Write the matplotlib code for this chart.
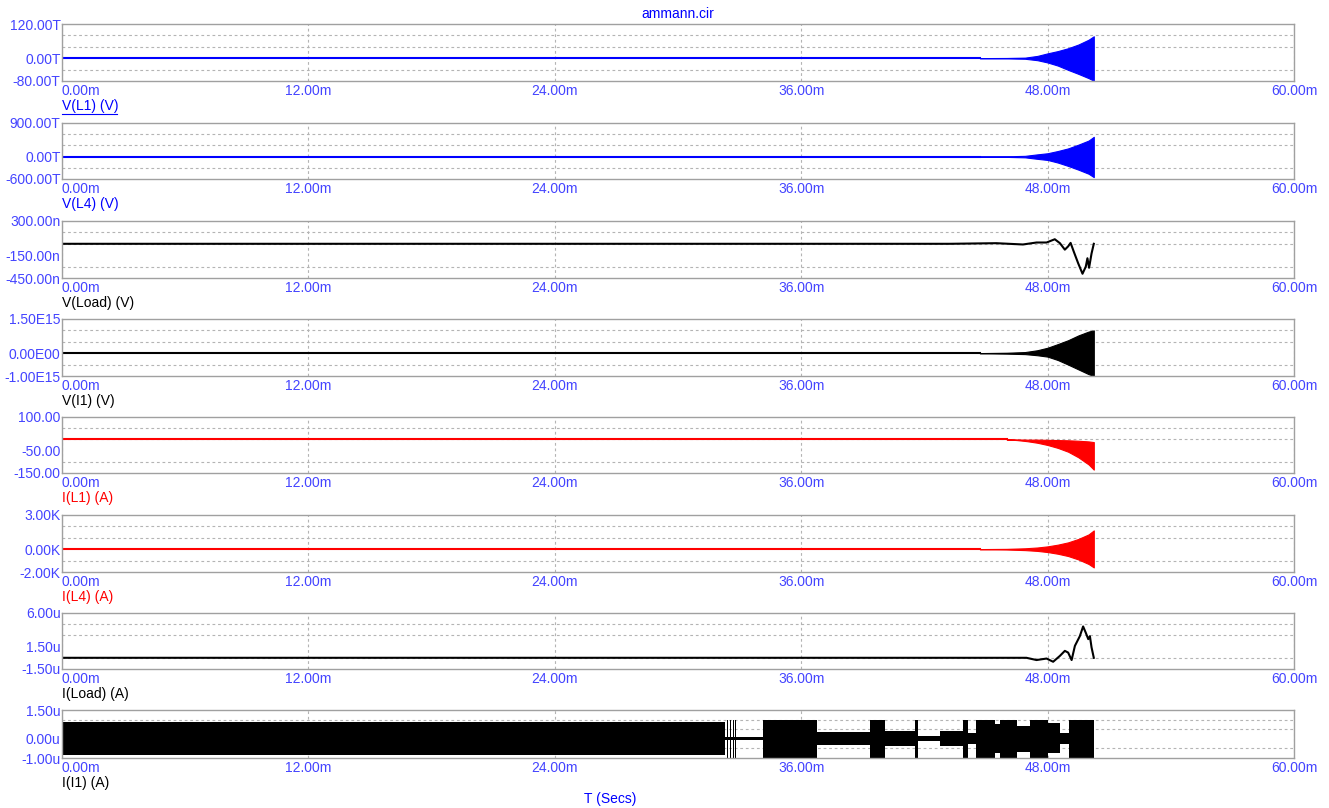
import numpy as np
import matplotlib.pyplot as plt

plt.rcParams['font.family'] = ['Liberation Sans', 'DejaVu Sans']
plt.rcParams['font.size'] = 10

# ---- data (time in ms) ----

# growing oscillations, envelope upper / lower
t_env = [44.7, 46.0, 46.9, 47.5, 48.0, 48.5, 49.0, 49.5, 50.0, 50.25]
vl1_hi = [0.3, 0.8, 2.0, 8.0, 17.0, 25.0, 35.0, 48.0, 65.0, 77.0]          # T
vl1_lo = [-0.3, -0.8, -2.0, -7.0, -15.0, -26.0, -41.0, -55.0, -70.0, -79.0]
vl4_hi = [3, 8, 20, 60, 90, 150, 220, 320, 430, 530]                        # T
vl4_lo = [-3, -8, -20, -60, -90, -160, -250, -350, -460, -550]
vi1_hi = [0.005, 0.02, 0.05, 0.13, 0.24, 0.40, 0.57, 0.78, 0.95, 1.0]      # E15
vi1_lo = [-0.005, -0.02, -0.04, -0.09, -0.15, -0.30, -0.50, -0.71, -0.92, -1.0]
il4_hi = [0.01, 0.03, 0.08, 0.15, 0.25, 0.40, 0.60, 0.90, 1.30, 1.65]      # K
il4_lo = [-0.01, -0.03, -0.08, -0.15, -0.25, -0.40, -0.60, -0.90, -1.30, -1.60]

t_il1 = [46.0, 46.5, 47.0, 47.5, 48.0, 48.5, 49.0, 49.5, 50.0, 50.25]
il1_hi = [0, 0, -1, -1, -2, -3, -4, -6, -9, -12]
il1_lo = [0, -3, -8, -15, -25, -38, -55, -80, -112, -135]

# V(Load) in n
t_vload = [0.0, 43.24, 45.5, 46.8, 47.46, 47.95, 48.35, 48.6, 48.84, 49.0, 49.12,
           49.28, 49.49, 49.7, 49.86, 49.94, 50.02, 50.14, 50.25]
vload = [0, 0, 8, -9, 17, 17, 60, 8, -77, -34, 12, -107, -257, -394, -300, -190,
         -316, -128, 0]

# I(Load) in u
t_iload = [0.0, 45.83, 46.97, 47.46, 47.95, 48.27, 48.6, 48.84, 49.0, 49.17, 49.33,
           49.57, 49.73, 49.86, 49.98, 50.06, 50.14, 50.25]
iload = [0, 0, 0, -0.3, -0.1, -0.53, 0.26, 0.93, 0.7, -0.3, 1.6, 2.9, 4.2, 3.35,
         2.5, 2.9, 1.4, 0]

# I(I1) band segments (u): start, upper, lower (step-wise)
i1_t = [0.0, 32.28, 32.39, 32.44, 32.52, 32.57, 32.68, 32.73, 32.78, 32.82,
        34.15, 36.75, 39.34, 40.07, 41.53, 41.70, 42.75, 43.89, 44.13, 44.50,
        45.43, 45.67, 46.49, 47.14, 48.03, 48.60, 49.05, 50.25]
i1_hi = [0.86, 0.08, 1.0, 0.08, 1.0, 0.08, 1.0, 0.08, 1.0, 0.10,
         1.0, 0.35, 1.0, 0.43, 1.0, 0.16, 0.43, 1.0, 0.31, 1.0,
         0.75, 1.0, 0.66, 1.0, 0.83, 0.31, 1.0, 1.0]
i1_lo = [-0.83, -0.07, -1.0, -0.07, -1.0, -0.07, -1.0, -0.07, -1.0, -0.07,
         -0.99, -0.30, -0.99, -0.38, -0.99, -0.12, -0.38, -0.99, -0.29, -0.99,
         -0.73, -0.99, -0.68, -0.99, -0.76, -0.29, -0.99, -0.99]

names = ['V(L1) (V)', 'V(L4) (V)', 'V(Load) (V)', 'V(I1) (V)',
         'I(L1) (A)', 'I(L4) (A)', 'I(Load) (A)', 'I(I1) (A)']
ylims = [(-80, 120), (-600, 900), (-450, 300), (-1.0, 1.5),
         (-150, 100), (-2, 3), (-1.5, 6), (-1.0, 1.5)]
ylabs = [['120.00T', '0.00T', '-80.00T'], ['900.00T', '0.00T', '-600.00T'],
         ['300.00n', '-150.00n', '-450.00n'], ['1.50E15', '0.00E00', '-1.00E15'],
         ['100.00', '-50.00', '-150.00'], ['3.00K', '0.00K', '-2.00K'],
         ['6.00u', '1.50u', '-1.50u'], ['1.50u', '0.00u', '-1.00u']]
xticks = [0, 12, 24, 36, 48, 60]
xlabs = ['0.00m', '12.00m', '24.00m', '36.00m', '48.00m', '60.00m']

BLUE = '#0000ff'
RED = '#ff0000'
TICK = '#4444ff'
trace_col = [BLUE, BLUE, 'black', 'black', RED, RED, 'black', 'black']
name_col = [BLUE, BLUE, 'black', 'black', RED, RED, 'black', 'black']

# panel boxes in pixels
W, H = 1329, 808
x0, x1 = 62, 1294
tops = [24, 123, 221, 319, 417, 515, 613, 710]
bots = [81, 179, 278, 376, 473, 572, 669, 758]

fig = plt.figure(figsize=(W / 100, H / 100), dpi=100)

axes = []
for i in range(8):
    ax = fig.add_axes([x0 / W, 1 - bots[i] / H, (x1 - x0) / W, (bots[i] - tops[i]) / H])
    lo, hi = ylims[i]
    ax.set_xlim(0, 60)
    ax.set_ylim(lo, hi)
    ax.set_axisbelow(True)
    mid = lo + 0.4 * (hi - lo)
    ax.set_yticks([hi, mid, lo], ylabs[i])
    ax.set_yticks(np.linspace(lo, hi, 6)[1:-1], minor=True)
    ax.set_xticks(xticks, xlabs)
    ax.get_xticklabels()[0].set_ha('left')
    ax.tick_params(which='both', length=0, colors=TICK, labelsize=10)
    ax.tick_params(axis='x', pad=2)
    ax.tick_params(axis='y', pad=1)
    ax.grid(which='minor', axis='y', color='#b4b4b4', lw=0.8, ls=(0, (2.5, 2.5)))
    ax.grid(which='major', axis='x', color='#b4b4b4', lw=0.8, ls=(0, (2.5, 2.5)))
    for s in ax.spines.values():
        s.set_color('#a0a0a0')
        s.set_linewidth(1.0)
        s.set_zorder(5)
    fig.text(x0 / W, 1 - (bots[i] + 25) / H, names[i], color=name_col[i],
             ha='left', va='center', fontsize=10)
    axes.append(ax)

# underline of the selected trace name
fig.add_artist(plt.Line2D([x0 / W, 117 / W], [1 - 114 / H, 1 - 114 / H],
                          color=BLUE, lw=0.8))

# envelopes
env = [(0, t_env, vl1_hi, vl1_lo), (1, t_env, vl4_hi, vl4_lo),
       (3, t_env, vi1_hi, vi1_lo), (4, t_il1, il1_hi, il1_lo),
       (5, t_env, il4_hi, il4_lo)]
for i, t, up, dn in env:
    ax = axes[i]
    ax.plot([0, t[0]], [0, 0], color=trace_col[i], lw=1.5)
    ax.fill_between(t, dn, up, color=trace_col[i], lw=0.8, edgecolor=trace_col[i])

axes[2].plot(t_vload, vload, color='black', lw=1.5)
axes[6].plot(t_iload, iload, color='black', lw=1.5)
axes[7].fill_between(i1_t, i1_lo, i1_hi, step='post', color='black', lw=0)

fig.text(678 / W, 1 - 14 / H, 'ammann.cir', color=BLUE, ha='center', va='center', fontsize=10)
fig.text(610 / W, 1 - 799 / H, 'T (Secs)', color=BLUE, ha='center', va='center', fontsize=10)

fig.savefig('out.png', dpi=100)
